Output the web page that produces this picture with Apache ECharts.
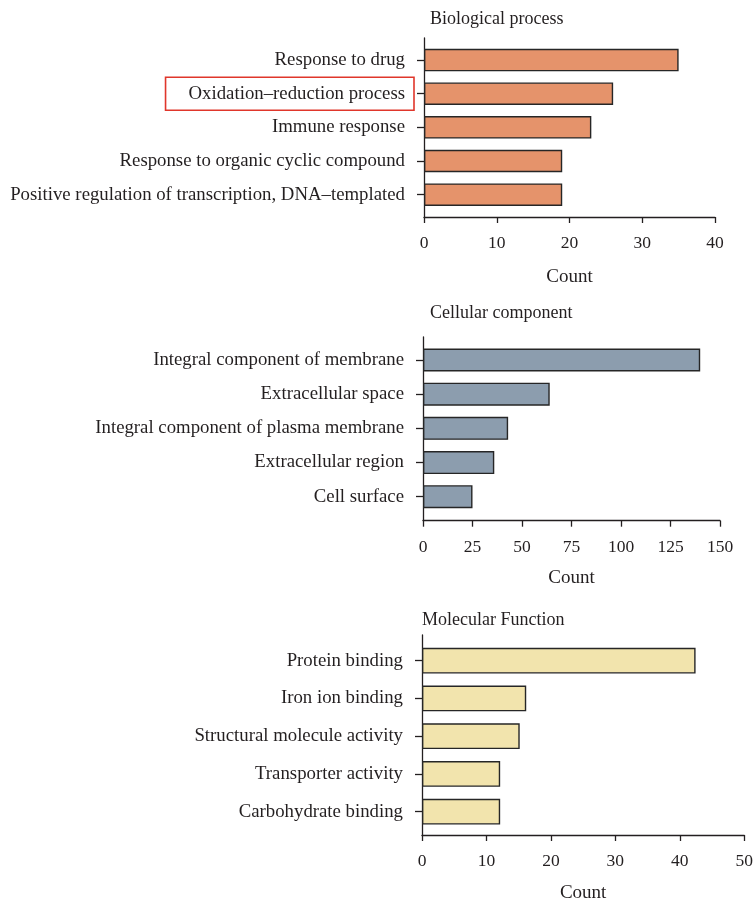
<!DOCTYPE html>
<html><head><meta charset="utf-8">
<script src="https://cdn.jsdelivr.net/npm/echarts@6/dist/echarts.min.js"></script>
<style>html,body{margin:0;padding:0;background:#fff}#c{width:756px;height:904px}</style>
</head><body><div id="c"></div>
<script>
const bpTitle = 'Biological process';
const bpCats = ['Response to drug','Oxidation–reduction process','Immune response','Response to organic cyclic compound','Positive regulation of transcription, DNA–templated'];
const bpValues = [35, 26, 23, 19, 19];
const bpTicks = {min: 0, max: 40, interval: 10};

const ccTitle = 'Cellular component';
const ccCats = ['Integral component of membrane','Extracellular space','Integral component of plasma membrane','Extracellular region','Cell surface'];
const ccValues = [140, 64, 43, 36, 25];
const ccTicks = {min: 0, max: 150, interval: 25};

const mfTitle = 'Molecular Function';
const mfCats = ['Protein binding','Iron ion binding','Structural molecule activity','Transporter activity','Carbohydrate binding'];
const mfValues = [42, 16, 15, 12, 12];
const mfTicks = {min: 0, max: 50, interval: 10};

const highlighted = 'Oxidation–reduction process';
const axisName = 'Count';

const FONT = 'Liberation Serif';
const FS = 18.8;
const FS_TICK = 17.5;
const FS_TITLE = 18;
const FS_NAME = 19;
const TXT = '#231f20';
const LINE = '#231f20';

const panels = [
  {title: bpTitle, cats: bpCats, vals: bpValues, t: bpTicks, color: '#e5936b',
   outer: {left: 424, right: 41, top: 38, bottom: 687}, inner: {top: 43.2, bottom: 692.5}, bw: 22.5, nameGap: 50.5, titlePos: {left: 425, top: 5}},
  {title: ccTitle, cats: ccCats, vals: ccValues, t: ccTicks, color: '#8c9dae',
   outer: {left: 423, right: 36, top: 337, bottom: 383.3}, inner: {top: 342.9, bottom: 390.2}, bw: 23, nameGap: 48, titlePos: {left: 425, top: 299}},
  {title: mfTitle, cats: mfCats, vals: mfValues, t: mfTicks, color: '#f2e4ad',
   outer: {left: 422, right: 8.3, top: 635, bottom: 67.3}, inner: {top: 641.8, bottom: 73.4}, bw: 25.7, nameGap: 49, titlePos: {left: 417, top: 606}}
];

const option = {animation: false, backgroundColor: '#fff', title: [], grid: [], xAxis: [], yAxis: [], series: []};
panels.forEach((p, i) => {
  const og = i * 2, ig = i * 2 + 1;
  option.title.push({text: p.title, left: p.titlePos.left, top: p.titlePos.top,
    textStyle: {fontFamily: FONT, fontSize: FS_TITLE, fontWeight: 'normal', color: TXT}});
  option.grid.push({left: p.outer.left, right: p.outer.right, top: p.outer.top, bottom: p.outer.bottom, containLabel: false});
  option.grid.push({left: p.outer.left, right: p.outer.right, top: p.inner.top, bottom: p.inner.bottom, containLabel: false});
  option.xAxis.push({gridIndex: og, type: 'value', min: p.t.min, max: p.t.max, interval: p.t.interval,
    name: axisName, nameLocation: 'middle', nameGap: p.nameGap,
    nameTextStyle: {fontFamily: FONT, fontSize: FS_NAME, color: TXT},
    axisLine: {show: true, lineStyle: {color: LINE, width: 1.3}},
    axisTick: {show: true, length: 6, lineStyle: {color: LINE, width: 1.3}},
    axisLabel: {fontFamily: FONT, fontSize: FS_TICK, color: TXT, margin: 17.5},
    splitLine: {show: false}});
  option.yAxis.push({gridIndex: og, type: 'value', min: 0, max: 1,
    axisLine: {show: true, lineStyle: {color: LINE, width: 1.3}},
    axisTick: {show: false}, axisLabel: {show: false}, splitLine: {show: false}});
  option.xAxis.push({gridIndex: ig, type: 'value', min: p.t.min, max: p.t.max, interval: p.t.interval, show: false});
  option.yAxis.push({gridIndex: ig, type: 'category', data: p.cats, inverse: true,
    axisLine: {show: false},
    axisTick: {show: true, alignWithLabel: true, length: 7, lineStyle: {color: LINE, width: 1.3}},
    axisLabel: {margin: 10, fontFamily: FONT, fontSize: FS, color: TXT,
      formatter: v => v === highlighted ? '{hl|' + v + '}' : '{n|' + v + '}',
      rich: {
        n: {fontFamily: FONT, fontSize: FS, color: TXT, padding: [0, 9, 0, 0]},
        hl: {fontFamily: FONT, fontSize: FS, color: TXT, padding: [7, 9, 7, 23], borderColor: '#e0362b', borderWidth: 1.6}
      }},
    splitLine: {show: false}});
  option.series.push({type: 'bar', xAxisIndex: ig, yAxisIndex: ig, data: p.vals, barWidth: p.bw,
    itemStyle: {color: p.color, borderColor: '#262626', borderWidth: 1.4}});
});
const chart = echarts.init(document.getElementById('c'), null, {renderer: 'canvas'});
chart.setOption(option);
</script></body></html>
